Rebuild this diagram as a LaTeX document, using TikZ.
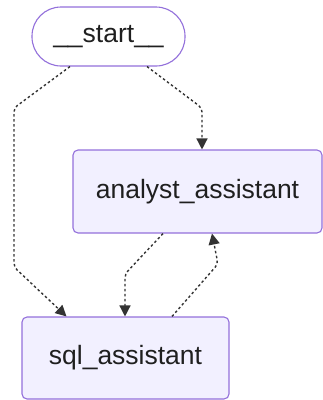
\documentclass[tikz,border=0pt]{standalone}
\usepackage{fontspec}
\setmainfont{Liberation Sans}
\usetikzlibrary{arrows.meta}
\definecolor{nodefill}{HTML}{F2F0FF}
\definecolor{nodeline}{HTML}{9370DB}
\definecolor{edgecol}{HTML}{333333}
\definecolor{txt}{HTML}{1F1F1F}
\tikzset{
  box/.style={draw=nodeline, fill=nodefill, line width=1.1pt, rounded corners=5pt,
    inner sep=0pt, text=txt, font=\fontsize{26.5}{30}\selectfont},
  startbox/.style={box, fill=white, rounded corners=29pt},
  edge/.style={draw=edgecol, line width=1.4pt, dash pattern=on 2.5pt off 2.5pt,
    rounded corners=4pt, -{Triangle[length=11pt,width=11pt]}}
}
\begin{document}
\begin{tikzpicture}[x=1pt,y=-1pt]
\useasboundingbox (0,0) rectangle (323,400);
\node[startbox, minimum width=153pt, minimum height=59pt] (start) at (108.5,36.5) {\_\_start\_\_};
\node[box, minimum width=249pt, minimum height=83pt] (analyst) at (197.5,191.5) {analyst\_assistant};
\node[box, minimum width=207pt, minimum height=82pt] (sql) at (125.5,358) {sql\_assistant};
\coordinate (b1) at (14,108);
\coordinate (b2) at (14,267);
\coordinate (b3) at (202,108);
\coordinate (b4) at (125,274);
\coordinate (b5) at (218,264);
\draw[edge] ([xshift=-38.5pt]start.south) -- (b1) -- (b2) -- ([xshift=-59pt]sql.north);
\draw[edge] ([xshift=38.5pt]start.south) -- (b3) -- ([xshift=4.5pt]analyst.north);
\draw[edge] ([xshift=-34.5pt]analyst.south) -- (b4) -- ([xshift=-0.5pt]sql.north);
\draw[edge] ([xshift=46.5pt]sql.north) -- (b5) -- ([xshift=14.5pt]analyst.south);
\end{tikzpicture}
\end{document}
